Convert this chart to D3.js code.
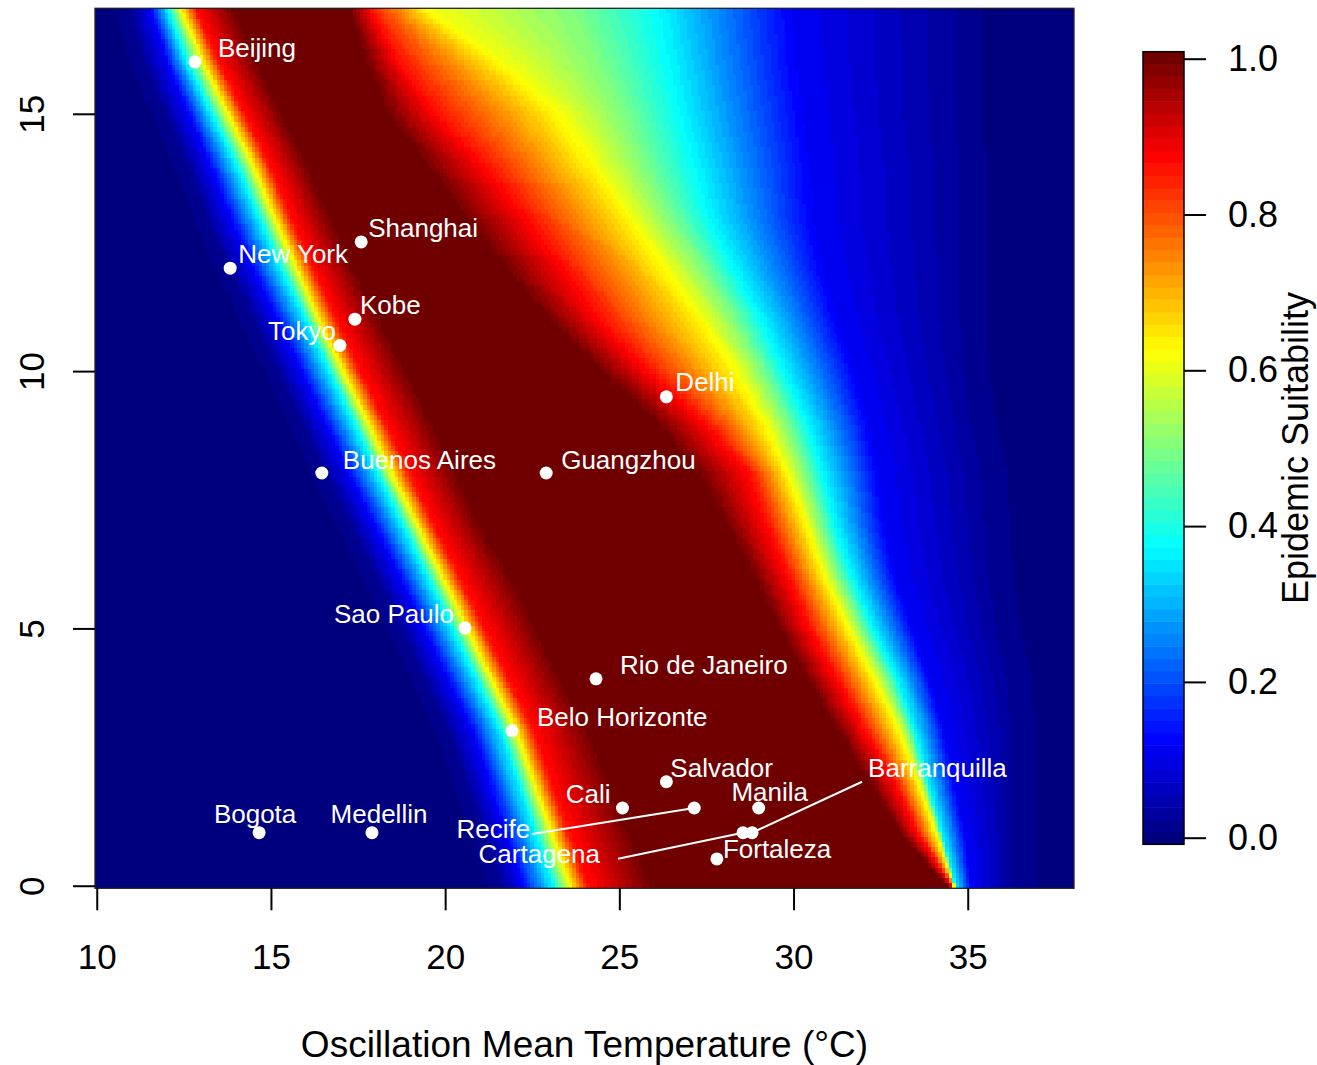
<!DOCTYPE html>
<meta charset="utf-8">
<style>
body { margin: 0; background: #fff; }
text { font-family: "Liberation Sans", Arial, Helvetica, sans-serif; }
</style>
<svg width="1317" height="1065"></svg>
<script src="https://d3js.org/d3.v7.min.js"></script>
<script>

// suitability surface, read off the picture as contours:
// for each amplitude row, the temperature (°C) where suitability crosses each level
var rowY = [0, 1, 2, 3, 4, 5, 6, 7, 8, 9, 10, 11, 12, 13, 14, 15, 16, 17];
var stopLevels = [0.02, 0.12, 0.37, 0.62, 0.86, 1, 1, 0.86, 0.62, 0.5, 0.37, 0.12, 0.02];
var rowStops = [
  [21.6, 22.2, 23.1, 23.58, 24.07, 25.9,    34.4, 34.55, 34.6, 34.62, 34.64, 35.1, 36.3],
  [21.1, 21.72, 22.6, 23.07, 23.55, 25.3,   33.1, 33.6, 34.1, 34.2, 34.25, 34.9, 36.3],
  [20.6, 21.25, 22.1, 22.55, 23.02, 24.7,   32.2, 32.95, 33.6, 33.75, 33.85, 34.6, 36.3],
  [20.1, 20.78, 21.6, 22.03, 22.53, 24.1,   31.3, 32.1, 33.05, 33.3, 33.5, 34.3, 36.3],
  [19.4, 20.08, 20.9, 21.33, 21.8, 23.3,    30.4, 31.3, 32.35, 32.7, 33.0, 33.9, 36.2],
  [18.7, 19.38, 20.2, 20.63, 21.1, 22.6,    29.6, 30.5, 31.6, 31.95, 32.3, 33.4, 35.9],
  [18.0, 18.68, 19.5, 19.92, 20.4, 21.85,   28.9, 29.9, 30.9, 31.3, 31.7, 32.9, 35.7],
  [17.28, 17.96, 18.78, 19.2, 19.66, 21.0,  28.1, 29.3, 30.4, 30.8, 31.2, 32.6, 35.6],
  [16.56, 17.24, 18.06, 18.46, 18.98, 20.3, 27.3, 28.8, 29.85, 30.35, 30.85, 32.4, 35.5],
  [15.87, 16.55, 17.37, 17.77, 18.25, 19.6, 26.1, 27.5, 29.2, 29.8, 30.4, 32.1, 35.2],
  [15.18, 15.86, 16.68, 17.06, 17.54, 18.85, 24.5, 25.9, 28.35, 29.1, 29.75, 31.7, 35.0],
  [14.49, 15.17, 15.99, 16.38, 16.86, 18.1, 23.0, 24.5, 27.4, 28.3, 29.1, 31.2, 34.9],
  [13.78, 14.46, 15.28, 15.72, 16.2, 17.35, 21.75, 23.5, 26.35, 27.4, 28.3, 30.8, 34.9],
  [13.14, 13.82, 14.64, 15.07, 15.54, 16.7, 20.6, 22.4, 25.3, 26.45, 27.6, 30.5, 34.9],
  [12.6, 13.25, 14.02, 14.48, 14.95, 16.05, 19.5, 21.2, 24.3, 25.7, 27.2, 30.4, 34.9],
  [11.95, 12.62, 13.3, 13.76, 14.22, 15.3,  18.35, 19.8, 23.3, 25.1, 26.8, 30.2, 34.8],
  [11.35, 12.02, 12.59, 13.05, 13.5, 14.6,  17.75, 18.7, 21.6, 24.4, 26.5, 30.0, 34.8],
  [10.95, 11.56, 12.05, 12.42, 12.85, 13.95, 17.3, 17.9, 19.5, 23.7, 26.2, 29.9, 34.8]
];

// cities
var cityNames = ["Beijing", "Shanghai", "New York", "Kobe", "Tokyo", "Delhi", "Buenos Aires",
  "Guangzhou", "Sao Paulo", "Rio de Janeiro", "Belo Horizonte", "Salvador", "Cali", "Recife",
  "Manila", "Bogota", "Medellin", "Cartagena", "Barranquilla", "Fortaleza"];
var cityTemp = [12.82, 17.59, 13.83, 17.41, 16.98, 26.35, 16.46, 22.9, 20.57, 24.33, 21.92,
  26.35, 25.09, 27.15, 29.0, 14.66, 17.9, 28.55, 28.81, 27.8];
var cityAmp = [16.01, 12.51, 12.0, 11.01, 10.5, 9.5, 8.02, 8.02, 5.01, 4.02, 3.01,
  2.02, 1.51, 1.51, 1.51, 1.03, 1.03, 1.03, 1.03, 0.52];

var xTicks = [10, 15, 20, 25, 30, 35];
var yTicks = [0, 5, 10, 15];
var barTicks = [0, 0.2, 0.4, 0.6, 0.8, 1];
var zlim = [-0.0085, 1.009];
var jet = ["#00007F", "#0000FF", "#007FFF", "#00FFFF", "#7FFF7F", "#FFFF00", "#FF7F00", "#FF0000", "#700000"];

// label placement (px from the point): dx, dy, anchor, leader start dx, dy
var labelPos = [
  [23, -5, "start"], [7, -5, "start"], [8, -5, "start"], [5, -5, "start"], [-4, -5, "end"],
  [9, -6, "start"], [21, -4, "start"], [15, -4, "start"], [-11, -5, "end"], [24, -5, "start"],
  [25, -5, "start"], [4, -5, "start"], [-12, -5, "end"], [-164, 30, "end", -162, 26],
  [11, -7, "middle"], [-4, -10, "middle"], [7, -10, "middle"], [-143, 30, "end", -125, 26],
  [116, -56, "start", 110, -51], [6, -1, "start"]
];

var svg = d3.select("svg");
var x = d3.scaleLinear().domain([9.95, 38.05]).range([95, 1074]);
var y = d3.scaleLinear().domain([-0.05, 17.05]).range([888.3, 8.3]);
var bar = d3.scaleLinear().domain([0, 1]).range([837.7, 58.7]);

var ramp = d3.scaleLinear().domain(jet.map(function(d, i) { return i / (jet.length - 1); })).range(jet);
var palette = d3.range(64).map(function(i) { return ramp(i / 63); });
function bin(v) {
  return Math.max(0, Math.min(63, Math.floor((v - zlim[0]) / (zlim[1] - zlim[0]) * 64)));
}

// cells of 0.1 x 0.1, merged into runs of equal colour along each row
var runs = [];
for (var j = 0; j <= 170; j++) {
  var yy = j / 10;
  var k = Math.max(0, Math.min(rowY.length - 2, d3.bisectRight(rowY, yy) - 1));
  var t = (yy - rowY[k]) / (rowY[k + 1] - rowY[k]);
  var xs = rowStops[k].map(function(v, i) { return v + (rowStops[k + 1][i] - v) * t; });
  var prof = d3.scaleLinear()
      .domain([xs[0] - 0.6].concat(xs, [xs[xs.length - 1] + 1]))
      .range([0].concat(stopLevels, [0]))
      .clamp(true);
  var start = 0, cur = bin(prof(10));
  for (var i = 1; i <= 281; i++) {
    var b = i <= 280 ? bin(prof(10 + i / 10)) : -1;
    if (b !== cur) {
      runs.push({y: yy, x0: 10 + start / 10, x1: 10 + (i - 1) / 10, b: cur});
      start = i; cur = b;
    }
  }
}

svg.append("g")
  .selectAll("rect")
  .data(runs)
  .enter().append("rect")
    .attr("x", function(d) { return Math.round(x(d.x0 - 0.05)); })
    .attr("width", function(d) { return Math.round(x(d.x1 + 0.05)) - Math.round(x(d.x0 - 0.05)); })
    .attr("y", function(d) { return Math.round(y(d.y + 0.05)); })
    .attr("height", function(d) { return Math.round(y(d.y - 0.05)) - Math.round(y(d.y + 0.05)); })
    .attr("fill", function(d) { return palette[d.b]; });

svg.append("rect")
    .attr("x", x(9.95)).attr("y", y(17.05))
    .attr("width", x(38.05) - x(9.95)).attr("height", y(-0.05) - y(17.05))
    .attr("fill", "none").attr("stroke", "#222").attr("stroke-width", 1.3);

// axes
var gx = svg.append("g")
    .attr("transform", "translate(0," + y(-0.05) + ")")
    .call(d3.axisBottom(x).tickValues(xTicks).tickSize(22).tickSizeOuter(0));
gx.select(".domain").remove();
gx.selectAll("line").attr("stroke", "#000").attr("stroke-width", 2);
gx.selectAll("text").attr("fill", "#000").style("font-size", "35px")
    .attr("y", 81).attr("dy", 0);

var gy = svg.append("g")
    .attr("transform", "translate(" + x(9.95) + ",0)")
    .call(d3.axisLeft(y).tickValues(yTicks).tickSize(22).tickSizeOuter(0));
gy.select(".domain").remove();
gy.selectAll("line").attr("stroke", "#000").attr("stroke-width", 2);
gy.selectAll("text").attr("fill", "#000").style("font-size", "35px")
    .attr("x", 0).attr("dy", 0).attr("text-anchor", "middle")
    .attr("transform", "translate(-51,0) rotate(-90)");

svg.append("text")
    .attr("x", (x(9.95) + x(38.05)) / 2).attr("y", 1057)
    .attr("text-anchor", "middle").style("font-size", "37px")
    .text("Oscillation Mean Temperature (°C)");

// cities
var gc = svg.append("g");
cityNames.forEach(function(name, i) {
  var px = x(cityTemp[i]), py = y(cityAmp[i]), p = labelPos[i];
  if (p.length > 3) {
    gc.append("line")
        .attr("x1", px + p[3]).attr("y1", py + p[4])
        .attr("x2", px).attr("y2", py)
        .attr("stroke", "#fff").attr("stroke-width", 2);
  }
});
gc.selectAll("circle")
  .data(cityNames)
  .enter().append("circle")
    .attr("cx", function(d, i) { return x(cityTemp[i]); })
    .attr("cy", function(d, i) { return y(cityAmp[i]); })
    .attr("r", 6.5)
    .attr("fill", "#fff");
gc.selectAll("text")
  .data(cityNames)
  .enter().append("text")
    .attr("x", function(d, i) { return x(cityTemp[i]) + labelPos[i][0]; })
    .attr("y", function(d, i) { return y(cityAmp[i]) + labelPos[i][1]; })
    .attr("text-anchor", function(d, i) { return labelPos[i][2]; })
    .attr("fill", "#fff")
    .style("font-size", "26px")
    .text(function(d) { return d; });

// colour bar
var step = (zlim[1] - zlim[0]) / 64;
svg.append("g")
  .selectAll("rect")
  .data(palette)
  .enter().append("rect")
    .attr("x", 1143)
    .attr("width", 41)
    .attr("y", function(d, i) { return bar(zlim[0] + (i + 1) * step); })
    .attr("height", function(d, i) { return bar(zlim[0] + i * step) - bar(zlim[0] + (i + 1) * step) + 0.5; })
    .attr("fill", function(d) { return d; });
svg.append("rect")
    .attr("x", 1143).attr("y", bar(zlim[1]))
    .attr("width", 41).attr("height", bar(zlim[0]) - bar(zlim[1]))
    .attr("fill", "none").attr("stroke", "#000").attr("stroke-width", 1.5);

var gb = svg.append("g")
    .attr("transform", "translate(1184,0)")
    .call(d3.axisRight(bar).tickValues(barTicks).tickFormat(d3.format(".1f")).tickSize(22).tickPadding(22));
gb.select(".domain").remove();
gb.selectAll("line").attr("stroke", "#000").attr("stroke-width", 2);
gb.selectAll("text").attr("fill", "#000").style("font-size", "36px");

svg.append("text")
    .attr("transform", "translate(1308," + (bar(zlim[0]) + bar(zlim[1])) / 2 + ") rotate(-90)")
    .attr("text-anchor", "middle").style("font-size", "36px")
    .text("Epidemic Suitability");

</script>
